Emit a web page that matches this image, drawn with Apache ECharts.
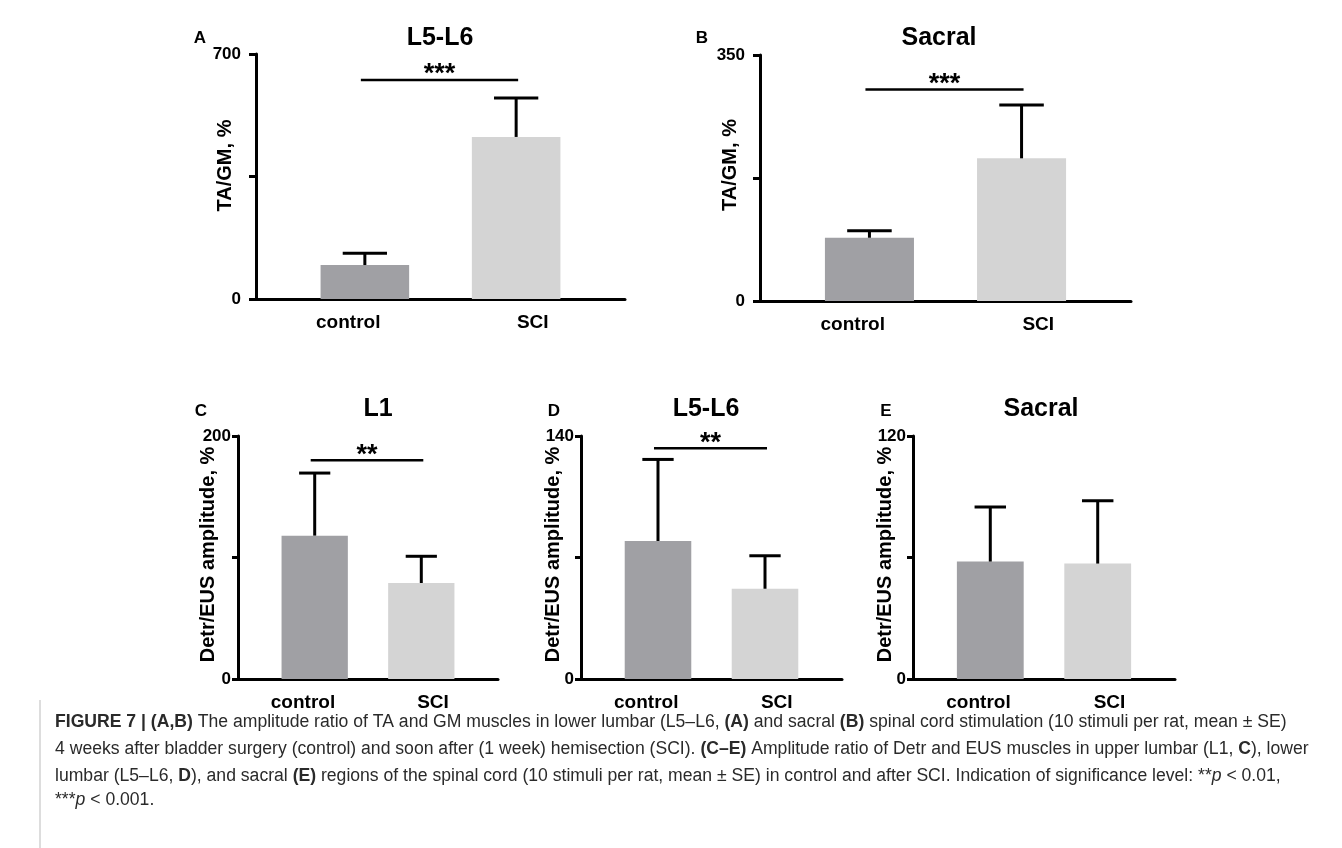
<!DOCTYPE html>
<html><head><meta charset="utf-8">
<script src="https://cdn.jsdelivr.net/npm/echarts@6/dist/echarts.min.js"></script>
<style>html,body{margin:0;padding:0;background:#fff}#c{width:1342px;height:848px}</style>
</head><body><div id="c"></div>
<script>
// ---- data ----
const categories = ['control', 'SCI'];
const panelLetters = ['A', 'B', 'C', 'D', 'E'];
const panelTitles = ['L5-L6', 'Sacral', 'L1', 'L5-L6', 'Sacral'];
const yAxisNames = ['TA/GM, %', 'TA/GM, %', 'Detr/EUS amplitude, %', 'Detr/EUS amplitude, %', 'Detr/EUS amplitude, %'];
const yMax = [700, 350, 200, 140, 120];
const controlMean = [97, 90, 118, 79.5, 58];
const controlSE = [34, 10, 51.5, 47, 27];
const sciMean = [463, 203, 79, 52, 57];
const sciSE = [111, 76, 22, 19, 31];
const sigLabels = ['***', '***', '**', '**', ''];
const sigLevel = [626, 301, 180, 133, null];
const captionLines = [
  '{b|FIGURE 7 | (A,B)} The amplitude ratio of TA and GM muscles in lower lumbar (L5–L6, {b|(A)} and sacral {b|(B)} spinal cord stimulation (10 stimuli per rat, mean ± SE)',
  '4 weeks after bladder surgery (control) and soon after (1 week) hemisection (SCI). {b|(C–E)} Amplitude ratio of Detr and EUS muscles in upper lumbar (L1, {b|C}), lower',
  'lumbar (L5–L6, {b|D}), and sacral {b|(E)} regions of the spinal cord (10 stimuli per rat, mean ± SE) in control and after SCI. Indication of significance level: **{i|p} < 0.01,',
  '***{i|p} < 0.001.'
];

// ---- layout / style ----
const FONT = '"Liberation Sans", Arial, Helvetica, sans-serif';
const grids = [
  {left: 256, top: 54, width: 369, height: 245},
  {left: 760, top: 55, width: 371, height: 246},
  {left: 238, top: 436, width: 260, height: 243},
  {left: 581, top: 436, width: 261, height: 243},
  {left: 913, top: 436, width: 262, height: 243}
];
const barFrac = [0.48, 0.48, 0.51, 0.51, 0.51];
const PULL = 0.09;          // inward shift of bar centres, fraction of category width
const CAP = 0.24;           // error-bar cap width, fraction of category width
const tickLen = [7, 7, 6, 6, 6];
const labelMargin = [15, 15, 7, 7, 7];
const nameGap = [21, 20, 20, 18, 18];
const namePad = [22, 26, 6, 6, 6];
const titlePos = [[440, 38], [939, 38], [378, 409], [706, 409], [1041, 409]];
const letterPos = [[200, 38], [702, 38], [201, 411], [554, 411], [886, 411]];
const COLOR_CONTROL = '#a0a0a4';
const COLOR_SCI = '#d4d4d4';

const chart = echarts.init(document.getElementById('c'), null, {renderer: 'canvas'});

const xAxes = [], yAxes = [], series = [], graphics = [];

function errRender(params, api) {
  const idx = api.value(0);
  const cw = api.size([1, 0])[0];
  const shift = (idx === 0 ? 1 : -1) * PULL * cw;
  const base = api.coord([idx, api.value(1)]);
  const top = api.coord([idx, api.value(2)]);
  const x = base[0] + shift;
  const half = CAP * cw / 2;
  return {type: 'group', children: [
    {type: 'line', shape: {x1: x, y1: base[1], x2: x, y2: top[1]}, style: {stroke: '#000', lineWidth: 3}},
    {type: 'line', shape: {x1: x - half, y1: top[1], x2: x + half, y2: top[1]}, style: {stroke: '#000', lineWidth: 3}}
  ]};
}

function sigRender(label) {
  return function (params, api) {
    const cw = api.size([1, 0])[0];
    const lvl = api.value(1);
    const p0 = api.coord([0, lvl]);
    const p1 = api.coord([1, lvl]);
    const x0 = p0[0] + PULL * cw - 4;
    const x1 = p1[0] - PULL * cw + 2;
    return {type: 'group', children: [
      {type: 'line', shape: {x1: x0, y1: p0[1], x2: x1, y2: p0[1]}, style: {stroke: '#000', lineWidth: 2.5}},
      {type: 'text', x: (x0 + x1) / 2, y: p0[1] - 5,
       style: {text: label, fontFamily: FONT, fontWeight: 'bold', fontSize: 27, fill: '#000', align: 'center', verticalAlign: 'middle'}}
    ]};
  };
}

for (let i = 0; i < 5; i++) {
  const M = yMax[i];
  xAxes.push({
    gridIndex: i, type: 'category', data: categories,
    axisLine: {show: true, lineStyle: {color: '#000', width: 3}},
    axisTick: {show: false},
    axisLabel: {color: '#000', fontFamily: FONT, fontWeight: 'bold', fontSize: 19, margin: 14},
    splitLine: {show: false}
  });
  yAxes.push({
    gridIndex: i, type: 'value', min: 0, max: M, interval: M / 2,
    axisLine: {show: true, lineStyle: {color: '#000', width: 3}},
    axisTick: {show: true, length: tickLen[i], lineStyle: {color: '#000', width: 3}},
    axisLabel: {color: '#000', fontFamily: FONT, fontWeight: 'bold', fontSize: 17, margin: labelMargin[i],
      formatter: v => (v === 0 || v === M) ? String(v) : ''},
    splitLine: {show: false},
    name: yAxisNames[i], nameLocation: 'middle', nameGap: nameGap[i], nameMoveOverlap: false,
    nameTextStyle: {color: '#000', fontFamily: FONT, fontWeight: 'bold', fontSize: 20, padding: [0, 0, 0, namePad[i]]}
  });
  const bw = barFrac[i];
  const gapPct = -(1 + 2 * PULL / bw) * 100;
  series.push({
    type: 'bar', xAxisIndex: i, yAxisIndex: i, name: 'control' + i,
    data: [controlMean[i], '-'], barWidth: (bw * 100) + '%', barGap: gapPct + '%',
    itemStyle: {color: COLOR_CONTROL}, silent: true
  });
  series.push({
    type: 'bar', xAxisIndex: i, yAxisIndex: i, name: 'SCI' + i,
    data: ['-', sciMean[i]], barWidth: (bw * 100) + '%', barGap: gapPct + '%',
    itemStyle: {color: COLOR_SCI}, silent: true
  });
  series.push({
    type: 'custom', xAxisIndex: i, yAxisIndex: i, renderItem: errRender, z: 5, silent: true,
    data: [[0, controlMean[i], controlMean[i] + controlSE[i]], [1, sciMean[i], sciMean[i] + sciSE[i]]]
  });
  if (sigLevel[i] !== null) {
    series.push({
      type: 'custom', xAxisIndex: i, yAxisIndex: i, renderItem: sigRender(sigLabels[i]), z: 5, silent: true,
      data: [[0, sigLevel[i]]]
    });
  }
  graphics.push({type: 'text', x: titlePos[i][0], y: titlePos[i][1],
    style: {text: panelTitles[i], fontFamily: FONT, fontWeight: 'bold', fontSize: 25, fill: '#000', align: 'center', verticalAlign: 'middle'}});
  graphics.push({type: 'text', x: letterPos[i][0], y: letterPos[i][1],
    style: {text: panelLetters[i], fontFamily: FONT, fontWeight: 'bold', fontSize: 17, fill: '#000', align: 'center', verticalAlign: 'middle'}});
}

const capY = [722, 749, 776, 800];
const CAPFS = 17.6;
const rich = {
  b: {fontFamily: FONT, fontWeight: 'bold', fontSize: CAPFS, fill: '#2a2a2a', color: '#2a2a2a'},
  i: {fontFamily: FONT, fontStyle: 'italic', fontSize: CAPFS, fill: '#2a2a2a', color: '#2a2a2a'}
};
captionLines.forEach((t, k) => {
  graphics.push({type: 'text', x: 55, y: capY[k],
    style: {text: t, rich: rich, fontFamily: FONT, fontSize: CAPFS, fill: '#2a2a2a', align: 'left', verticalAlign: 'middle'}});
});
graphics.push({type: 'line', shape: {x1: 40, y1: 700, x2: 40, y2: 848}, style: {stroke: '#bbb', lineWidth: 1}});

chart.setOption({
  animation: false,
  backgroundColor: '#fff',
  grid: grids.map(g => Object.assign({containLabel: false}, g)),
  xAxis: xAxes,
  yAxis: yAxes,
  series: series,
  graphic: graphics
});
</script>
</body></html>
